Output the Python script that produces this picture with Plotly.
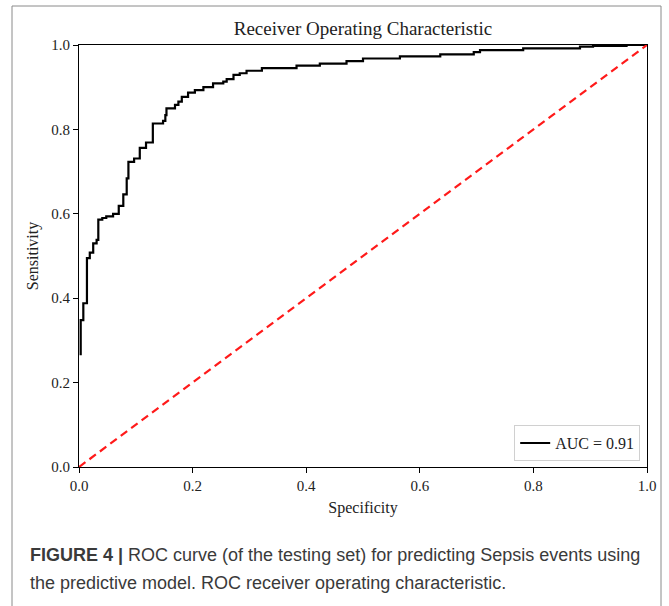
import plotly.graph_objects as go

# ROC curve corner points (specificity axis value where the step rises, sensitivity after the rise)
fpr = [0.003, 0.003, 0.0076, 0.014, 0.019, 0.025, 0.031, 0.034, 0.041, 0.048, 0.060, 0.070,
       0.078, 0.084, 0.087, 0.097, 0.107, 0.118, 0.130, 0.148, 0.152, 0.154, 0.169, 0.175,
       0.181, 0.192, 0.204, 0.219, 0.236, 0.254, 0.260, 0.272, 0.283, 0.295, 0.322, 0.383,
       0.424, 0.471, 0.500, 0.565, 0.636, 0.695, 0.706, 0.782, 0.882, 0.905, 0.964, 1.0]
tpr = [0.265, 0.348, 0.388, 0.495, 0.508, 0.530, 0.538, 0.586, 0.590, 0.594, 0.600, 0.619,
       0.646, 0.684, 0.723, 0.731, 0.756, 0.769, 0.814, 0.820, 0.834, 0.850, 0.858, 0.866,
       0.877, 0.887, 0.893, 0.900, 0.909, 0.913, 0.919, 0.929, 0.933, 0.939, 0.945, 0.951,
       0.956, 0.962, 0.968, 0.973, 0.978, 0.983, 0.988, 0.992, 0.996, 0.998, 1.0, 1.0]
diag = [0.0, 1.0]
auc_label = "AUC = 0.91"
ticks = [0.0, 0.2, 0.4, 0.6, 0.8, 1.0]
tick_text = ["0.0", "0.2", "0.4", "0.6", "0.8", "1.0"]

serif = "Liberation Serif, Times New Roman, serif"
sans = "Liberation Sans, Arial, sans-serif"

fig = go.Figure()
fig.add_trace(go.Scatter(x=fpr, y=tpr, mode="lines", line=dict(color="black", width=2.2, shape="hv"),
                         name=auc_label))
fig.add_trace(go.Scatter(x=diag, y=diag, mode="lines",
                         line=dict(color="#ff1a1a", width=2.2, dash="8px,5px"),
                         showlegend=False))

axis_common = dict(range=[0, 1], tickvals=ticks, ticktext=tick_text, showline=True, mirror=True,
                   linecolor="black", linewidth=1, ticks="outside", ticklen=5, tickcolor="black",
                   showgrid=False, zeroline=False, tickfont=dict(family=serif, size=15, color="#222"))

fig.update_layout(
    width=669, height=606,
    margin=dict(l=79, r=22, t=45, b=139),
    paper_bgcolor="white", plot_bgcolor="white",
    title=dict(text="Receiver Operating Characteristic", x=363 / 669, xanchor="center",
               y=1 - 28 / 606, yanchor="middle", font=dict(family=serif, size=19, color="#222")),
    xaxis=dict(axis_common, title=dict(text="Specificity", font=dict(family=serif, size=16, color="#222"),
                                       standoff=8)),
    yaxis=dict(axis_common, title=dict(text="Sensitivity", font=dict(family=serif, size=16, color="#222"),
                                       standoff=8)),
    legend=dict(x=0.988, y=0.014, xanchor="right", yanchor="bottom", bgcolor="white",
                bordercolor="#d0d0d0", borderwidth=1, itemwidth=30,
                font=dict(family=serif, size=16, color="#222")),
    showlegend=True,
)

# outer figure frame and caption
fig.add_shape(type="rect", xref="paper", yref="paper",
              x0=(12 - 79) / 568, x1=(661 - 79) / 568, y0=(467 - 640) / 422, y1=(467 - 6) / 422,
              line=dict(color="#8a8a8a", width=1), fillcolor="rgba(0,0,0,0)", layer="below")
fig.add_annotation(xref="paper", yref="paper", x=(28 - 79) / 568, y=(467 - 555) / 422,
                   xanchor="left", yanchor="middle", showarrow=False, align="left",
                   text="<b>FIGURE 4 |</b> ROC curve (of the testing set) for predicting Sepsis events using",
                   font=dict(family=sans, size=18, color="#3a3a3a"))
fig.add_annotation(xref="paper", yref="paper", x=(28 - 79) / 568, y=(467 - 583) / 422,
                   xanchor="left", yanchor="middle", showarrow=False, align="left",
                   text="the predictive model. ROC receiver operating characteristic.",
                   font=dict(family=sans, size=18, color="#3a3a3a"))

fig.write_html("out.html", config={"displayModeBar": False},
               post_script="document.body.style.margin='0px';document.body.style.overflow='hidden';")
